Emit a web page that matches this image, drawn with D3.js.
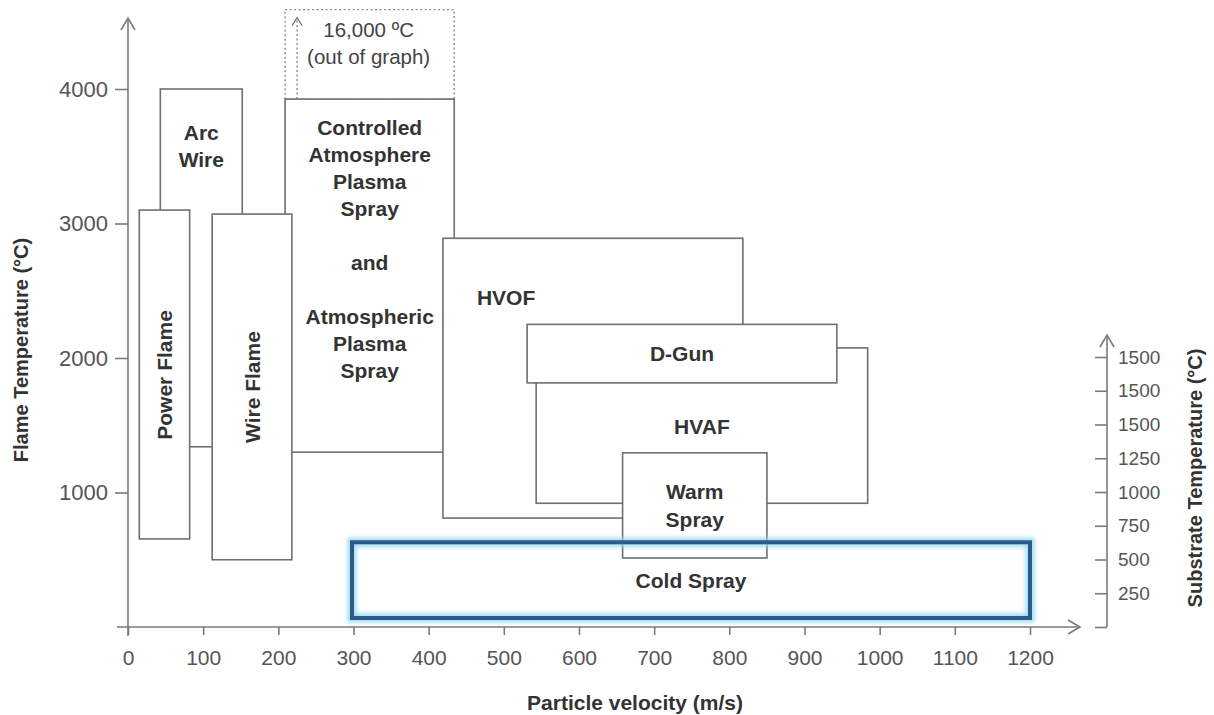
<!DOCTYPE html>
<html>
<head>
<meta charset="utf-8">
<script src="https://cdn.jsdelivr.net/npm/d3@7"></script>
<style>
  html, body { margin: 0; padding: 0; background: #ffffff; }
  svg { display: block; }
  text { font-family: "Liberation Sans", Arial, Helvetica, sans-serif; }
</style>
</head>
<body>
<svg id="chart" width="1214" height="715"></svg>
<script>
// ---------- DATA ----------
const processes = ["Arc Wire", "Plasma", "Power Flame", "Wire Flame", "HVOF", "HVAF", "D-Gun", "Warm Spray", "Cold Spray"];
const velocityMin = [43, 209, 15, 112, 419, 543, 531, 658, 298];
const velocityMax = [152, 434, 82, 218, 818, 984, 943, 850, 1200];
const flameTempMin = [1340, 1300, 655, 500, 810, 920, 1815, 513, 67];
const flameTempMax = [4000, 3925, 3100, 3070, 2890, 2075, 2250, 1295, 630];
const processLabels = [
  ["Arc", "Wire"],
  ["Controlled", "Atmosphere", "Plasma", "Spray", "", "and", "", "Atmospheric", "Plasma", "Spray"],
  ["Power Flame"],
  ["Wire Flame"],
  ["HVOF"],
  ["HVAF"],
  ["D-Gun"],
  ["Warm", "Spray"],
  ["Cold Spray"]
];
// out-of-graph plasma extension (16,000 °C)
const outOfGraphTemp = [3925, 4590];
const outOfGraphText = ["16,000 ºC", "(out of graph)"];

const velocityTicks = [0, 100, 200, 300, 400, 500, 600, 700, 800, 900, 1000, 1100, 1200];
const flameTicks = [1000, 2000, 3000, 4000];
const substrateTicks = [0, 250, 500, 750, 1000, 1250, 1500, 1750, 2000];
const substrateTickLabels = ["", "250", "500", "750", "1000", "1250", "1500", "1500", "1500"];

const xTitle = "Particle velocity (m/s)";
const yTitle = "Flame Temperature (°C)";
const y2Title = "Substrate Temperature (°C)";

// ---------- LAYOUT ----------
const svg = d3.select("#chart");
const x = d3.scaleLinear().domain([0, 1200]).range([128, 1030]);
const y = d3.scaleLinear().domain([0, 4000]).range([627, 89]);
const ySub = d3.scaleLinear().domain([0, 2000]).range([627, 357]);

const axisColor = "#7a7a7a";
const boxStroke = "#6f6f6f";
const textColor = "#333333";
const tickTextColor = "#555555";
const plain = d3.format("d");

const defs = svg.append("defs");
defs.append("filter").attr("id", "glow").attr("x", "-5%").attr("y", "-30%").attr("width", "110%").attr("height", "160%")
  .append("feGaussianBlur").attr("stdDeviation", 2);

// label anchors (data units) for labels not centred in their box
const labelAnchor = {
  "Arc Wire": [null, 3576],
  "Plasma": [null, 2814],
  "Power Flame": [null, 1874],
  "Wire Flame": [null, 1784],
  "HVOF": [503, 2453],
  "HVAF": [null, 1487]
};
const rotated = { "Power Flame": true, "Wire Flame": true };
const lineHeight = { "Plasma": 27, "Arc Wire": 27, "Warm Spray": 28 };

const rows = processes.map((p, i) => ({
  name: p, v0: velocityMin[i], v1: velocityMax[i], t0: flameTempMin[i], t1: flameTempMax[i], lines: processLabels[i]
}));

// ---------- DOTTED OUT-OF-GRAPH BOX ----------
const plasma = rows[1];
const gOut = svg.append("g");
gOut.append("rect")
  .attr("x", x(plasma.v0)).attr("y", y(outOfGraphTemp[1]))
  .attr("width", x(plasma.v1) - x(plasma.v0))
  .attr("height", y(outOfGraphTemp[0]) - y(outOfGraphTemp[1]))
  .attr("fill", "none").attr("stroke", "#8a8a8a").attr("stroke-width", 1.4)
  .attr("stroke-dasharray", "2,2.5");
const ax = x(plasma.v0) + 12;
gOut.append("line")
  .attr("x1", ax).attr("x2", ax)
  .attr("y1", y(outOfGraphTemp[0])).attr("y2", y(outOfGraphTemp[1]) + 10)
  .attr("stroke", "#8a8a8a").attr("stroke-width", 1.4).attr("stroke-dasharray", "2,2.5");
gOut.append("path")
  .attr("d", `M${ax - 5},${y(outOfGraphTemp[1]) + 16} L${ax},${y(outOfGraphTemp[1]) + 8} L${ax + 5},${y(outOfGraphTemp[1]) + 16}`)
  .attr("fill", "none").attr("stroke", "#777").attr("stroke-width", 1.3);
gOut.selectAll("text.oog").data(outOfGraphText).enter().append("text")
  .attr("class", "oog")
  .attr("x", (x(plasma.v0) + x(plasma.v1)) / 2 - 1)
  .attr("y", (d, i) => y(outOfGraphTemp[1]) + 20 + i * 27)
  .attr("text-anchor", "middle").attr("dominant-baseline", "central")
  .attr("font-size", 20.5).attr("fill", "#444").text(d => d);

// ---------- BOXES ----------
const gBoxes = svg.append("g");
rows.forEach(r => {
  const rx = x(r.v0), ry = y(r.t1), rw = x(r.v1) - x(r.v0), rh = y(r.t0) - y(r.t1);
  if (r.name === "Cold Spray") {
    gBoxes.append("rect").attr("x", rx).attr("y", ry).attr("width", rw).attr("height", rh)
      .attr("fill", "none").attr("stroke", "#8fd6f0").attr("stroke-width", 9).attr("opacity", 0.85)
      .attr("filter", "url(#glow)");
    gBoxes.append("rect").attr("x", rx).attr("y", ry).attr("width", rw).attr("height", rh)
      .attr("fill", "none").attr("stroke", "#2d5a88").attr("stroke-width", 4);
  } else {
    gBoxes.append("rect").attr("x", rx).attr("y", ry).attr("width", rw).attr("height", rh)
      .attr("fill", "#ffffff").attr("stroke", boxStroke).attr("stroke-width", 1.6);
  }
});

// ---------- LABELS ----------
const gLabels = svg.append("g");
rows.forEach(r => {
  const a = labelAnchor[r.name] || [null, null];
  const cx = x(a[0] != null ? a[0] : (r.v0 + r.v1) / 2);
  const cy = y(a[1] != null ? a[1] : (r.t0 + r.t1) / 2);
  const lh = lineHeight[r.name] || 27;
  const n = r.lines.length;
  const t = gLabels.append("text")
    .attr("text-anchor", "middle")
    .attr("font-weight", "bold").attr("font-size", 21).attr("fill", textColor)
    .attr("transform", rotated[r.name] ? `translate(${cx},${cy}) rotate(-90)` : `translate(${cx},${cy})`);
  r.lines.forEach((line, i) => {
    t.append("tspan").attr("x", 0).attr("y", (i - (n - 1) / 2) * lh)
      .attr("dominant-baseline", "central").text(line);
  });
});

// ---------- AXES ----------
const gAx = svg.append("g");
// x axis
const xAxis = d3.axisBottom(x).tickValues(velocityTicks).tickFormat(plain).tickSize(8).tickSizeOuter(0).tickPadding(15);
const gx = gAx.append("g").attr("transform", `translate(0,${y(0)})`).call(xAxis);
gx.select(".domain").remove();
gx.selectAll(".tick line").attr("stroke", axisColor).attr("stroke-width", 1.6);
gx.selectAll(".tick text").attr("font-size", 21).attr("fill", tickTextColor)
  .attr("font-family", "'Liberation Sans', Arial, sans-serif");
gAx.append("line").attr("x1", x(0) - 11).attr("x2", 1080).attr("y1", y(0)).attr("y2", y(0))
  .attr("stroke", axisColor).attr("stroke-width", 1.6);
gAx.append("path").attr("d", `M1068,${y(0) - 7} L1080,${y(0)} L1068,${y(0) + 7}`)
  .attr("fill", "none").attr("stroke", axisColor).attr("stroke-width", 1.6);

// left y axis
const yAxis = d3.axisLeft(y).tickValues(flameTicks).tickFormat(plain).tickSize(13).tickSizeOuter(0).tickPadding(7);
const gy = gAx.append("g").attr("transform", `translate(${x(0)},0)`).call(yAxis);
gy.select(".domain").remove();
gy.selectAll(".tick line").attr("stroke", axisColor).attr("stroke-width", 1.6);
gy.selectAll(".tick text").attr("font-size", 22).attr("fill", tickTextColor)
  .attr("font-family", "'Liberation Sans', Arial, sans-serif");
gAx.append("line").attr("x1", x(0)).attr("x2", x(0)).attr("y1", y(0) + 9).attr("y2", 18)
  .attr("stroke", axisColor).attr("stroke-width", 1.6);
gAx.append("path").attr("d", `M${x(0) - 7},30 L${x(0)},18 L${x(0) + 7},30`)
  .attr("fill", "none").attr("stroke", axisColor).attr("stroke-width", 1.6);

// right substrate axis
const rightX = 1107;
const y2Axis = d3.axisRight(ySub).tickValues(substrateTicks)
  .tickFormat((d, i) => substrateTickLabels[i]).tickSizeInner(-12).tickSizeOuter(0).tickPadding(11);
const gy2 = gAx.append("g").attr("transform", `translate(${rightX},0)`).call(y2Axis);
gy2.select(".domain").remove();
gy2.selectAll(".tick line").attr("stroke", axisColor).attr("stroke-width", 1.6);
gy2.selectAll(".tick text").attr("font-size", 19).attr("fill", tickTextColor)
  .attr("font-family", "'Liberation Sans', Arial, sans-serif");
gAx.append("line").attr("x1", rightX).attr("x2", rightX).attr("y1", ySub(0)).attr("y2", 335)
  .attr("stroke", axisColor).attr("stroke-width", 1.6);
gAx.append("path").attr("d", `M${rightX - 7},347 L${rightX},335 L${rightX + 7},347`)
  .attr("fill", "none").attr("stroke", axisColor).attr("stroke-width", 1.6);

// ---------- AXIS TITLES ----------
svg.append("text").attr("x", 635).attr("y", 702)
  .attr("text-anchor", "middle").attr("dominant-baseline", "central")
  .attr("font-weight", "bold").attr("font-size", 21).attr("fill", textColor).text(xTitle);
svg.append("text").attr("transform", "translate(21,350) rotate(-90)")
  .attr("text-anchor", "middle").attr("dominant-baseline", "central")
  .attr("font-weight", "bold").attr("font-size", 20).attr("fill", textColor).text(yTitle);
svg.append("text").attr("transform", "translate(1195,478) rotate(-90)")
  .attr("text-anchor", "middle").attr("dominant-baseline", "central")
  .attr("font-weight", "bold").attr("font-size", 20).attr("fill", textColor).text(y2Title);
</script>
</body>
</html>
